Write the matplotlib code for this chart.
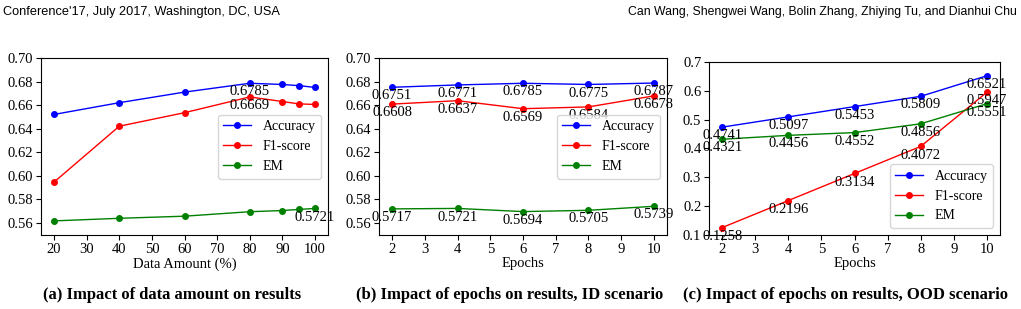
import matplotlib
matplotlib.use("Agg")
import matplotlib.pyplot as plt

plt.rcParams['font.family'] = ['Liberation Serif', 'DejaVu Serif']
plt.rcParams['font.size'] = 10.5

# (a) data amount
amount = [20, 40, 60, 80, 90, 95, 100]
acc_a = [0.652, 0.662, 0.671, 0.6785, 0.6775, 0.6765, 0.675]
f1_a = [0.5945, 0.642, 0.6535, 0.6669, 0.663, 0.661, 0.6605]
em_a = [0.5615, 0.5637, 0.5655, 0.5693, 0.5703, 0.5712, 0.5721]

# (b) epochs, ID scenario
epochs = [2, 4, 6, 8, 10]
acc_b = [0.6751, 0.6771, 0.6785, 0.6775, 0.6787]
f1_b = [0.6608, 0.6637, 0.6569, 0.6584, 0.6678]
em_b = [0.5717, 0.5721, 0.5694, 0.5705, 0.5739]

# (c) epochs, OOD scenario
acc_c = [0.4741, 0.5097, 0.5453, 0.5809, 0.6521]
f1_c = [0.1258, 0.2196, 0.3134, 0.4072, 0.5947]
em_c = [0.4321, 0.4456, 0.4552, 0.4856, 0.5551]

captions = ["(a) Impact of data amount on results",
            "(b) Impact of epochs on results, ID scenario",
            "(c) Impact of epochs on results, OOD scenario"]

W, H = 1021, 309
fig = plt.figure(figsize=(W / 100, H / 100), dpi=100)


def box(l, t, r, b):
    return [l / W, 1 - b / H, (r - l) / W, (b - t) / H]


ax1 = fig.add_axes(box(41, 58, 328, 235))
ax2 = fig.add_axes(box(379, 58, 667, 235))
ax3 = fig.add_axes(box(709, 62, 1000, 235))


def draw(ax, x, acc, f1, em):
    ax.plot(x, acc, 'o-', color='blue', lw=1, ms=4, label='Accuracy')
    ax.plot(x, f1, 'o-', color='red', lw=1, ms=4, label='F1-score')
    ax.plot(x, em, 'o-', color='green', lw=1, ms=4, label='EM')


def note(ax, x, y):
    ax.annotate('%.4f' % y, (x, y), xytext=(0, -1.5), textcoords='offset points',
                ha='center', va='top', fontsize=10.5)


draw(ax1, amount, acc_a, f1_a, em_a)
note(ax1, amount[3], acc_a[3])
note(ax1, amount[3], f1_a[3])
note(ax1, amount[6], em_a[6])
ax1.set_ylim(0.5495, 0.70)
ax1.set_yticks([0.56, 0.58, 0.60, 0.62, 0.64, 0.66, 0.68, 0.70])
ax1.set_xticks([20, 30, 40, 50, 60, 70, 80, 90, 100])
ax1.set_xlabel('Data Amount (%)', labelpad=1)
ax1.legend(loc='center right', fontsize=10)

draw(ax2, epochs, acc_b, f1_b, em_b)
for s in (acc_b, f1_b, em_b):
    for xv, yv in zip(epochs, s):
        note(ax2, xv, yv)
ax2.set_ylim(0.5495, 0.70)
ax2.set_yticks([0.56, 0.58, 0.60, 0.62, 0.64, 0.66, 0.68, 0.70])
ax2.set_xticks(range(2, 11))
ax2.set_xlabel('Epochs', labelpad=1)
ax2.legend(loc='center right', fontsize=10)

draw(ax3, epochs, acc_c, f1_c, em_c)
for s in (acc_c, f1_c, em_c):
    for xv, yv in zip(epochs, s):
        note(ax3, xv, yv)
ax3.set_ylim(0.1, 0.7)
ax3.set_yticks([0.1, 0.2, 0.3, 0.4, 0.5, 0.6, 0.7])
ax3.set_xticks(range(2, 11))
ax3.set_xlabel('Epochs', labelpad=1)
ax3.legend(loc='lower right', fontsize=10)

for ax in (ax1, ax2, ax3):
    ax.tick_params(labelsize=10.5, pad=2)

cx = [172, 510, 845]
for c, t in zip(cx, captions):
    fig.text(c / W, 1 - 295 / H, t, ha='center', va='center',
             fontsize=12, fontweight='bold')

fig.text(3 / W, 1 - 12 / H, "Conference'17, July 2017, Washington, DC, USA",
         ha='left', va='center', fontsize=9.2, family='Liberation Sans')
fig.text(1017 / W, 1 - 12 / H,
         "Can Wang, Shengwei Wang, Bolin Zhang, Zhiying Tu, and Dianhui Chu",
         ha='right', va='center', fontsize=8.8, family='Liberation Sans')

fig.savefig('out.png', dpi=100)
